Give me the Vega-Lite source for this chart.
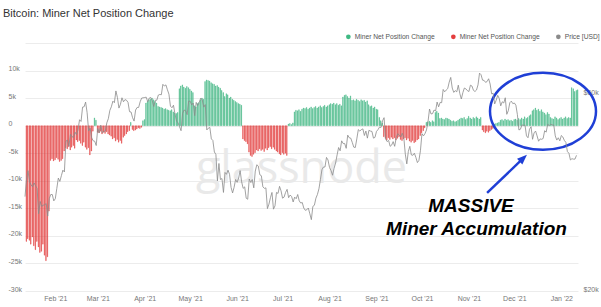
{
"$schema":"https://vega.github.io/schema/vega-lite/v6.json",
"width":553,"height":248,
"autosize":"none",
"padding":{"left":25,"top":43,"right":23,"bottom":16},
"background":"#ffffff",
"config":{"view":{"stroke":null},"font":"Liberation Sans","axis":{"labelFont":"Liberation Sans","labelFontSize":7,"labelColor":"#777777","gridColor":"#ececec","gridWidth":1,"domain":false,"ticks":false}},
"title":{"text":"Bitcoin: Miner Net Position Change","anchor":"start","frame":"group","fontSize":11,"fontWeight":"normal","font":"Liberation Sans","color":"#333333","dx":-22,"offset":14},
"datasets":{"main":[
{"d":"2021-01-12","n":-21000,"p":33900},{"d":"2021-01-13","n":-20500,"p":37300},{"d":"2021-01-14","n":-20800,"p":39200},{"d":"2021-01-15","n":-21500,"p":36800},{"d":"2021-01-16","n":-20200,"p":36200},{"d":"2021-01-17","n":-21800,"p":35800},{"d":"2021-01-18","n":-22500,"p":36600},{"d":"2021-01-19","n":-21000,"p":36000},{"d":"2021-01-20","n":-22000,"p":35500},{"d":"2021-01-21","n":-23000,"p":30800},
{"d":"2021-01-22","n":-22800,"p":33000},{"d":"2021-01-23","n":-21500,"p":32100},{"d":"2021-01-24","n":-23500,"p":32300},{"d":"2021-01-25","n":-24500,"p":32400},{"d":"2021-01-26","n":-23800,"p":32600},{"d":"2021-01-27","n":-15500,"p":30400},{"d":"2021-01-28","n":-6300,"p":33500},{"d":"2021-01-29","n":-6000,"p":34300},{"d":"2021-01-30","n":-6400,"p":34300},{"d":"2021-01-31","n":-6200,"p":33100},
{"d":"2021-02-01","n":-5800,"p":33500},{"d":"2021-02-02","n":-6100,"p":35500},{"d":"2021-02-03","n":-6500,"p":37600},{"d":"2021-02-04","n":-6300,"p":36900},{"d":"2021-02-05","n":-6000,"p":38100},{"d":"2021-02-06","n":-4600,"p":39300},{"d":"2021-02-07","n":-4000,"p":38900},{"d":"2021-02-08","n":-4200,"p":46200},{"d":"2021-02-09","n":-3800,"p":46500},{"d":"2021-02-10","n":-4400,"p":44900},
{"d":"2021-02-11","n":-3900,"p":48000},{"d":"2021-02-12","n":-3600,"p":47400},{"d":"2021-02-13","n":-4100,"p":47200},{"d":"2021-02-14","n":-2600,"p":48600},{"d":"2021-02-15","n":-2900,"p":47900},{"d":"2021-02-16","n":-2700,"p":49200},{"d":"2021-02-17","n":-3200,"p":52100},{"d":"2021-02-18","n":-3600,"p":51600},{"d":"2021-02-19","n":-3000,"p":55900},{"d":"2021-02-20","n":-3900,"p":56000},
{"d":"2021-02-21","n":-4300,"p":57500},{"d":"2021-02-22","n":-4000,"p":54200},{"d":"2021-02-23","n":-5300,"p":48900},{"d":"2021-02-24","n":-4600,"p":49700},{"d":"2021-02-25","n":-1000,"p":47100},{"d":"2021-02-26","n":1400,"p":46300},{"d":"2021-02-27","n":1000,"p":46200},{"d":"2021-02-28","n":-1200,"p":45100},
{"d":"2021-03-01","n":-1300,"p":49600},{"d":"2021-03-02","n":-1000,"p":48400},{"d":"2021-03-03","n":-1500,"p":50500},{"d":"2021-03-04","n":-1200,"p":48400},{"d":"2021-03-05","n":-1400,"p":48800},{"d":"2021-03-06","n":-1100,"p":48900},{"d":"2021-03-07","n":-1500,"p":51200},{"d":"2021-03-08","n":-1700,"p":52400},{"d":"2021-03-09","n":-1900,"p":54900},{"d":"2021-03-10","n":-2400,"p":56000},
{"d":"2021-03-11","n":-2200,"p":57800},{"d":"2021-03-12","n":-2800,"p":57300},{"d":"2021-03-13","n":-2500,"p":61200},{"d":"2021-03-14","n":-3000,"p":59000},{"d":"2021-03-15","n":-2700,"p":55600},{"d":"2021-03-16","n":-3200,"p":56800},{"d":"2021-03-17","n":-2100,"p":58900},{"d":"2021-03-18","n":-1800,"p":57600},{"d":"2021-03-19","n":-1500,"p":58300},{"d":"2021-03-20","n":-1100,"p":58100},
{"d":"2021-03-21","n":-900,"p":57400},{"d":"2021-03-22","n":600,"p":54500},{"d":"2021-03-23","n":-700,"p":54400},{"d":"2021-03-24","n":-900,"p":52700},{"d":"2021-03-25","n":-800,"p":51700},{"d":"2021-03-26","n":-600,"p":55000},{"d":"2021-03-27","n":-400,"p":55800},{"d":"2021-03-28","n":-500,"p":55800},{"d":"2021-03-29","n":-300,"p":57600},{"d":"2021-03-30","n":900,"p":58800},{"d":"2021-03-31","n":1100,"p":58900},
{"d":"2021-04-01","n":4100,"p":59000},{"d":"2021-04-02","n":4400,"p":59100},{"d":"2021-04-03","n":4700,"p":57600},{"d":"2021-04-04","n":4800,"p":58800},{"d":"2021-04-05","n":5000,"p":59000},{"d":"2021-04-06","n":4700,"p":57900},{"d":"2021-04-07","n":4400,"p":56100},{"d":"2021-04-08","n":4100,"p":58100},{"d":"2021-04-09","n":3500,"p":58100},{"d":"2021-04-10","n":3400,"p":59800},
{"d":"2021-04-11","n":3300,"p":60000},{"d":"2021-04-12","n":3200,"p":59900},{"d":"2021-04-13","n":3000,"p":63500},{"d":"2021-04-14","n":3100,"p":62900},{"d":"2021-04-15","n":2900,"p":63300},{"d":"2021-04-16","n":2800,"p":61600},{"d":"2021-04-17","n":2700,"p":60100},{"d":"2021-04-18","n":2900,"p":56200},{"d":"2021-04-19","n":2500,"p":55700},{"d":"2021-04-20","n":2300,"p":56500},
{"d":"2021-04-21","n":2200,"p":53800},{"d":"2021-04-22","n":2400,"p":51700},{"d":"2021-04-23","n":6700,"p":51200},{"d":"2021-04-24","n":7200,"p":50100},{"d":"2021-04-25","n":7400,"p":49000},{"d":"2021-04-26","n":7000,"p":54000},{"d":"2021-04-27","n":6800,"p":55000},{"d":"2021-04-28","n":7100,"p":54800},{"d":"2021-04-29","n":6900,"p":53600},{"d":"2021-04-30","n":6600,"p":57800},
{"d":"2021-05-01","n":6300,"p":57800},{"d":"2021-05-02","n":6000,"p":56600},{"d":"2021-05-03","n":3600,"p":57200},{"d":"2021-05-04","n":3400,"p":53300},{"d":"2021-05-05","n":4000,"p":57400},{"d":"2021-05-06","n":4200,"p":56400},{"d":"2021-05-07","n":4700,"p":57400},{"d":"2021-05-08","n":5000,"p":58800},{"d":"2021-05-09","n":4800,"p":58200},{"d":"2021-05-10","n":8000,"p":55900},
{"d":"2021-05-11","n":8300,"p":56700},{"d":"2021-05-12","n":8200,"p":49200},{"d":"2021-05-13","n":8100,"p":49700},{"d":"2021-05-14","n":7800,"p":49900},{"d":"2021-05-15","n":7600,"p":46800},{"d":"2021-05-16","n":7500,"p":46400},{"d":"2021-05-17","n":7200,"p":43500},{"d":"2021-05-18","n":7300,"p":42900},{"d":"2021-05-19","n":7000,"p":37000},{"d":"2021-05-20","n":6800,"p":40800},
{"d":"2021-05-21","n":6400,"p":37300},{"d":"2021-05-22","n":6000,"p":37500},{"d":"2021-05-23","n":5300,"p":34700},{"d":"2021-05-24","n":5800,"p":38800},{"d":"2021-05-25","n":5600,"p":38400},{"d":"2021-05-26","n":5000,"p":39300},{"d":"2021-05-27","n":5200,"p":38400},{"d":"2021-05-28","n":4800,"p":35700},{"d":"2021-05-29","n":4600,"p":34600},{"d":"2021-05-30","n":4400,"p":35700},{"d":"2021-05-31","n":4200,"p":37300},
{"d":"2021-06-01","n":4000,"p":36700},{"d":"2021-06-02","n":3900,"p":37600},{"d":"2021-06-03","n":3700,"p":39200},{"d":"2021-06-04","n":-2400,"p":36800},{"d":"2021-06-05","n":-2700,"p":35500},{"d":"2021-06-06","n":-2900,"p":35800},{"d":"2021-06-07","n":-3300,"p":33600},{"d":"2021-06-08","n":-4800,"p":33400},{"d":"2021-06-09","n":-5400,"p":37400},{"d":"2021-06-10","n":-5600,"p":36700},
{"d":"2021-06-11","n":-5200,"p":37300},{"d":"2021-06-12","n":-4900,"p":35600},{"d":"2021-06-13","n":-4400,"p":39100},{"d":"2021-06-14","n":-4600,"p":40500},{"d":"2021-06-15","n":-4200,"p":40200},{"d":"2021-06-16","n":-4500,"p":38300},{"d":"2021-06-17","n":-4300,"p":38100},{"d":"2021-06-18","n":-4700,"p":35800},{"d":"2021-06-19","n":-4100,"p":35500},{"d":"2021-06-20","n":-4400,"p":35600},
{"d":"2021-06-21","n":-4000,"p":31700},{"d":"2021-06-22","n":-3800,"p":32500},{"d":"2021-06-23","n":-4200,"p":33700},{"d":"2021-06-24","n":-3900,"p":34700},{"d":"2021-06-25","n":-4300,"p":31600},{"d":"2021-06-26","n":-4600,"p":32200},{"d":"2021-06-27","n":-4800,"p":34700},{"d":"2021-06-28","n":-5100,"p":34500},{"d":"2021-06-29","n":-5300,"p":35900},{"d":"2021-06-30","n":-4900,"p":35000},
{"d":"2021-07-01","n":-5200,"p":33600},{"d":"2021-07-02","n":-5000,"p":33800},{"d":"2021-07-03","n":-5400,"p":34700},{"d":"2021-07-04","n":300,"p":35300},{"d":"2021-07-05","n":400,"p":33700},{"d":"2021-07-06","n":200,"p":34200},{"d":"2021-07-07","n":500,"p":33900},{"d":"2021-07-08","n":2500,"p":32900},{"d":"2021-07-09","n":2800,"p":33800},{"d":"2021-07-10","n":2700,"p":33500},
{"d":"2021-07-11","n":2900,"p":34300},{"d":"2021-07-12","n":2600,"p":33100},{"d":"2021-07-13","n":3000,"p":32700},{"d":"2021-07-14","n":3200,"p":32800},{"d":"2021-07-15","n":3100,"p":31800},{"d":"2021-07-16","n":3300,"p":31400},{"d":"2021-07-17","n":3000,"p":31500},{"d":"2021-07-18","n":3200,"p":31800},{"d":"2021-07-19","n":3400,"p":30800},{"d":"2021-07-20","n":3100,"p":29800},
{"d":"2021-07-21","n":3300,"p":32100},{"d":"2021-07-22","n":3500,"p":32300},{"d":"2021-07-23","n":3200,"p":33600},{"d":"2021-07-24","n":3400,"p":34300},{"d":"2021-07-25","n":3600,"p":35400},{"d":"2021-07-26","n":3300,"p":37300},{"d":"2021-07-27","n":3500,"p":39400},{"d":"2021-07-28","n":3700,"p":40000},{"d":"2021-07-29","n":3400,"p":40000},{"d":"2021-07-30","n":3600,"p":42200},{"d":"2021-07-31","n":3800,"p":41600},
{"d":"2021-08-01","n":4000,"p":39900},{"d":"2021-08-02","n":3900,"p":39200},{"d":"2021-08-03","n":4100,"p":38200},{"d":"2021-08-04","n":3800,"p":39700},{"d":"2021-08-05","n":4000,"p":40900},{"d":"2021-08-06","n":3700,"p":42800},{"d":"2021-08-07","n":3900,"p":44600},{"d":"2021-08-08","n":3600,"p":43800},{"d":"2021-08-09","n":5200,"p":46300},{"d":"2021-08-10","n":5500,"p":45600},
{"d":"2021-08-11","n":5600,"p":45600},{"d":"2021-08-12","n":5300,"p":44400},{"d":"2021-08-13","n":5000,"p":47800},{"d":"2021-08-14","n":5400,"p":47100},{"d":"2021-08-15","n":4600,"p":47000},{"d":"2021-08-16","n":4700,"p":45900},{"d":"2021-08-17","n":4500,"p":44700},{"d":"2021-08-18","n":4800,"p":44600},{"d":"2021-08-19","n":4600,"p":46800},{"d":"2021-08-20","n":4400,"p":49300},
{"d":"2021-08-21","n":4700,"p":48900},{"d":"2021-08-22","n":4500,"p":49300},{"d":"2021-08-23","n":4600,"p":49500},{"d":"2021-08-24","n":4300,"p":47700},{"d":"2021-08-25","n":4500,"p":48900},{"d":"2021-08-26","n":3800,"p":47000},{"d":"2021-08-27","n":3500,"p":49100},{"d":"2021-08-28","n":3600,"p":48900},{"d":"2021-08-29","n":3200,"p":48800},{"d":"2021-08-30","n":3400,"p":47000},{"d":"2021-08-31","n":3000,"p":47200},
{"d":"2021-09-01","n":2900,"p":48800},{"d":"2021-09-02","n":1500,"p":49300},{"d":"2021-09-03","n":900,"p":50000},{"d":"2021-09-04","n":500,"p":49900},{"d":"2021-09-05","n":-2000,"p":51800},{"d":"2021-09-06","n":-2300,"p":52700},{"d":"2021-09-07","n":-2600,"p":46800},{"d":"2021-09-08","n":-2200,"p":46100},{"d":"2021-09-09","n":-2500,"p":46400},{"d":"2021-09-10","n":-2100,"p":44900},
{"d":"2021-09-11","n":-2400,"p":45200},{"d":"2021-09-12","n":-2200,"p":46100},{"d":"2021-09-13","n":-2600,"p":44900},{"d":"2021-09-14","n":-2300,"p":47100},{"d":"2021-09-15","n":-2000,"p":48200},{"d":"2021-09-16","n":-2500,"p":47800},{"d":"2021-09-17","n":-2700,"p":47300},{"d":"2021-09-18","n":-2400,"p":48300},{"d":"2021-09-19","n":-2200,"p":47300},{"d":"2021-09-20","n":-2600,"p":43000},
{"d":"2021-09-21","n":-2300,"p":40700},{"d":"2021-09-22","n":-2800,"p":43600},{"d":"2021-09-23","n":-3000,"p":44900},{"d":"2021-09-24","n":-2700,"p":42800},{"d":"2021-09-25","n":-3100,"p":42700},{"d":"2021-09-26","n":-2900,"p":43200},{"d":"2021-09-27","n":-2600,"p":42200},{"d":"2021-09-28","n":-2400,"p":41000},{"d":"2021-09-29","n":-1800,"p":41500},{"d":"2021-09-30","n":-1300,"p":43800},
{"d":"2021-10-01","n":-900,"p":48200},{"d":"2021-10-02","n":-400,"p":47600},{"d":"2021-10-03","n":600,"p":48200},{"d":"2021-10-04","n":700,"p":49200},{"d":"2021-10-05","n":800,"p":51500},{"d":"2021-10-06","n":600,"p":55300},{"d":"2021-10-07","n":900,"p":53800},{"d":"2021-10-08","n":700,"p":53900},{"d":"2021-10-09","n":2400,"p":55000},{"d":"2021-10-10","n":2600,"p":54700},
{"d":"2021-10-11","n":2300,"p":57500},{"d":"2021-10-12","n":1300,"p":56000},{"d":"2021-10-13","n":1400,"p":57400},{"d":"2021-10-14","n":1200,"p":57300},{"d":"2021-10-15","n":1100,"p":61700},{"d":"2021-10-16","n":1400,"p":60900},{"d":"2021-10-17","n":1300,"p":61500},{"d":"2021-10-18","n":1200,"p":62000},{"d":"2021-10-19","n":1000,"p":64300},{"d":"2021-10-20","n":800,"p":66000},
{"d":"2021-10-21","n":900,"p":62200},{"d":"2021-10-22","n":700,"p":60700},{"d":"2021-10-23","n":800,"p":61300},{"d":"2021-10-24","n":1000,"p":60900},{"d":"2021-10-25","n":1200,"p":63200},{"d":"2021-10-26","n":1400,"p":60300},{"d":"2021-10-27","n":1300,"p":58500},{"d":"2021-10-28","n":1500,"p":60600},{"d":"2021-10-29","n":1100,"p":62200},{"d":"2021-10-30","n":1300,"p":61900},{"d":"2021-10-31","n":1700,"p":61300},
{"d":"2021-11-01","n":1400,"p":61000},{"d":"2021-11-02","n":1200,"p":63200},{"d":"2021-11-03","n":1500,"p":62900},{"d":"2021-11-04","n":1300,"p":61400},{"d":"2021-11-05","n":1600,"p":61000},{"d":"2021-11-06","n":1400,"p":61500},{"d":"2021-11-07","n":1200,"p":63300},{"d":"2021-11-08","n":1500,"p":67600},{"d":"2021-11-09","n":-800,"p":67000},{"d":"2021-11-10","n":-1100,"p":65000},
{"d":"2021-11-11","n":-1300,"p":64900},{"d":"2021-11-12","n":-1000,"p":64200},{"d":"2021-11-13","n":-1200,"p":64500},{"d":"2021-11-14","n":-900,"p":65500},{"d":"2021-11-15","n":-700,"p":63600},{"d":"2021-11-16","n":-500,"p":60200},{"d":"2021-11-17","n":300,"p":60400},{"d":"2021-11-18","n":400,"p":56900},{"d":"2021-11-19","n":500,"p":58100},{"d":"2021-11-20","n":600,"p":59700},
{"d":"2021-11-21","n":1000,"p":58700},{"d":"2021-11-22","n":1100,"p":56300},{"d":"2021-11-23","n":900,"p":57600},{"d":"2021-11-24","n":1200,"p":57200},{"d":"2021-11-25","n":1000,"p":58900},{"d":"2021-11-26","n":1100,"p":53700},{"d":"2021-11-27","n":900,"p":54800},{"d":"2021-11-28","n":1000,"p":57300},{"d":"2021-11-29","n":800,"p":57800},{"d":"2021-11-30","n":1100,"p":57000},
{"d":"2021-12-01","n":1200,"p":57200},{"d":"2021-12-02","n":1000,"p":56500},{"d":"2021-12-03","n":1300,"p":53600},{"d":"2021-12-04","n":1100,"p":49200},{"d":"2021-12-05","n":1400,"p":49400},{"d":"2021-12-06","n":1200,"p":50600},{"d":"2021-12-07","n":1600,"p":50500},{"d":"2021-12-08","n":1300,"p":50600},{"d":"2021-12-09","n":1500,"p":47600},{"d":"2021-12-10","n":1800,"p":47100},
{"d":"2021-12-11","n":2000,"p":49400},{"d":"2021-12-12","n":2700,"p":50100},{"d":"2021-12-13","n":2900,"p":46700},{"d":"2021-12-14","n":3200,"p":48400},{"d":"2021-12-15","n":2800,"p":48900},{"d":"2021-12-16","n":3000,"p":47600},{"d":"2021-12-17","n":2600,"p":46200},{"d":"2021-12-18","n":2900,"p":46800},{"d":"2021-12-19","n":2500,"p":46700},{"d":"2021-12-20","n":2300,"p":46900},
{"d":"2021-12-21","n":2000,"p":49000},{"d":"2021-12-22","n":2400,"p":48600},{"d":"2021-12-23","n":2100,"p":50800},{"d":"2021-12-24","n":1500,"p":50400},{"d":"2021-12-25","n":1300,"p":50800},{"d":"2021-12-26","n":1200,"p":50600},{"d":"2021-12-27","n":1600,"p":50600},{"d":"2021-12-28","n":1400,"p":47600},{"d":"2021-12-29","n":1100,"p":46500},{"d":"2021-12-30","n":1300,"p":47100},{"d":"2021-12-31","n":1500,"p":46300},
{"d":"2022-01-01","n":1200,"p":47700},{"d":"2022-01-02","n":1400,"p":47300},{"d":"2022-01-03","n":1600,"p":46400},{"d":"2022-01-04","n":1300,"p":45900},{"d":"2022-01-05","n":1500,"p":43600},{"d":"2022-01-06","n":1400,"p":43200},{"d":"2022-01-07","n":6900,"p":41600},{"d":"2022-01-08","n":6700,"p":41900},{"d":"2022-01-09","n":6200,"p":41800},{"d":"2022-01-10","n":6400,"p":41800},{"d":"2022-01-11","n":6500,"p":42700}
],
"ann":[
{"k":"wm","d":"2021-07-13T12:00:00","n":-10400},
{"k":"ell","d":"2021-12-19T21:36:00","n":2600},
{"k":"arrow","d":"2021-11-13T00:00:00","n":-12200,"d2":"2021-12-06T09:36:00","n2":-6040},
{"k":"head","d":"2021-12-06T09:36:00","n":-6040},
{"k":"t1","d":"2021-11-02T09:36:00","n":-15650},
{"k":"t2","d":"2021-11-06T00:00:00","n":-19820}
]},
"layer":[
{"layer":[
{"data":{"name":"main"},
 "mark":{"type":"bar","strokeWidth":0.35},
 "encoding":{
  "x":{"field":"d","type":"temporal","timeUnit":"yearmonthdate","title":null,
   "scale":{"domain":[{"year":2021,"month":1,"date":12},{"year":2022,"month":1,"date":12}],"nice":false},
   "axis":{"format":"%b '%y","formatType":"time","tickCount":{"interval":"month","step":1},"grid":false,"labelPadding":3,"labelFontSize":7,"labelColor":"#777777","labelFlush":false}},
  "y":{"field":"n","type":"quantitative","title":null,
   "scale":{"domain":[-30000,15000],"nice":false},
   "axis":{"values":[-30000,-25000,-20000,-15000,-10000,-5000,0,5000,10000,15000],"labelOverlap":false,"labelExpr":"datum.value == 15000 ? '' : (datum.value == 0 ? '0' : (datum.value/1000) + 'k')","labelAlign":"left","labelPadding":17,"labelOffset":-2,"grid":true,"labelFontSize":7,"labelColor":"#777777"}},
  "color":{"condition":{"test":"datum.n >= 0","value":"#3fb983"},"value":"#e43d3d"},
  "stroke":{"condition":{"test":"datum.n >= 0","value":"#2fae76"},"value":"#e02a2a"}}},
{"data":{"name":"ann"},"transform":[{"filter":"datum.k == 'wm'"}],
 "mark":{"type":"text","text":"glassnode","font":"Open Sans","fontSize":45,"color":"#e9e9e9","align":"center","baseline":"alphabetic"},
 "encoding":{
  "x":{"field":"d","type":"temporal","title":null,"axis":{"format":"%b '%y","formatType":"time","tickCount":{"interval":"month","step":1},"grid":false,"labelPadding":3,"labelFontSize":7,"labelColor":"#777777","labelFlush":false}},
  "y":{"field":"n","type":"quantitative","title":null,"axis":{"values":[-30000,-25000,-20000,-15000,-10000,-5000,0,5000,10000,15000],"labelOverlap":false,"labelExpr":"datum.value == 15000 ? '' : (datum.value == 0 ? '0' : (datum.value/1000) + 'k')","labelAlign":"left","labelPadding":17,"labelOffset":-2,"grid":true,"labelFontSize":7,"labelColor":"#777777"}}}},
{"data":{"name":"ann"},"transform":[{"filter":"datum.k == 'ell'"}],
 "mark":{"type":"point","shape":"M-1,0A1,0.726,0,1,0,1,0A1,0.726,0,1,0,-1,0Z","size":11236,"filled":false,"stroke":"#1f3fd6","strokeWidth":2.5,"opacity":1},
 "encoding":{
  "x":{"field":"d","type":"temporal","title":null,"axis":{"format":"%b '%y","formatType":"time","tickCount":{"interval":"month","step":1},"grid":false,"labelPadding":3,"labelFontSize":7,"labelColor":"#777777","labelFlush":false}},
  "y":{"field":"n","type":"quantitative","title":null,"axis":{"values":[-30000,-25000,-20000,-15000,-10000,-5000,0,5000,10000,15000],"labelOverlap":false,"labelExpr":"datum.value == 15000 ? '' : (datum.value == 0 ? '0' : (datum.value/1000) + 'k')","labelAlign":"left","labelPadding":17,"labelOffset":-2,"grid":true,"labelFontSize":7,"labelColor":"#777777"}}}},
{"data":{"name":"ann"},"transform":[{"filter":"datum.k == 'arrow'"}],
 "mark":{"type":"rule","color":"#1f3fd6","strokeWidth":2.5},
 "encoding":{
  "x":{"field":"d","type":"temporal","title":null,"axis":{"format":"%b '%y","formatType":"time","tickCount":{"interval":"month","step":1},"grid":false,"labelPadding":3,"labelFontSize":7,"labelColor":"#777777","labelFlush":false}},
  "y":{"field":"n","type":"quantitative","title":null,"axis":{"values":[-30000,-25000,-20000,-15000,-10000,-5000,0,5000,10000,15000],"labelOverlap":false,"labelExpr":"datum.value == 15000 ? '' : (datum.value == 0 ? '0' : (datum.value/1000) + 'k')","labelAlign":"left","labelPadding":17,"labelOffset":-2,"grid":true,"labelFontSize":7,"labelColor":"#777777"}},
  "x2":{"field":"d2"},"y2":{"field":"n2"}}},
{"data":{"name":"ann"},"transform":[{"filter":"datum.k == 'head'"}],
 "mark":{"type":"point","shape":"M0,-1L0.65,0.65L-0.65,0.65Z","size":144,"filled":true,"color":"#1f3fd6","angle":47,"opacity":1},
 "encoding":{
  "x":{"field":"d","type":"temporal","title":null,"axis":{"format":"%b '%y","formatType":"time","tickCount":{"interval":"month","step":1},"grid":false,"labelPadding":3,"labelFontSize":7,"labelColor":"#777777","labelFlush":false}},
  "y":{"field":"n","type":"quantitative","title":null,"axis":{"values":[-30000,-25000,-20000,-15000,-10000,-5000,0,5000,10000,15000],"labelOverlap":false,"labelExpr":"datum.value == 15000 ? '' : (datum.value == 0 ? '0' : (datum.value/1000) + 'k')","labelAlign":"left","labelPadding":17,"labelOffset":-2,"grid":true,"labelFontSize":7,"labelColor":"#777777"}}}},
{"data":{"name":"ann"},"transform":[{"filter":"datum.k == 't1'"}],
 "mark":{"type":"text","text":"MASSIVE","font":"Liberation Sans","fontSize":19,"fontWeight":"bold","fontStyle":"italic","color":"#000000","align":"center","baseline":"alphabetic"},
 "encoding":{
  "x":{"field":"d","type":"temporal","title":null,"axis":{"format":"%b '%y","formatType":"time","tickCount":{"interval":"month","step":1},"grid":false,"labelPadding":3,"labelFontSize":7,"labelColor":"#777777","labelFlush":false}},
  "y":{"field":"n","type":"quantitative","title":null,"axis":{"values":[-30000,-25000,-20000,-15000,-10000,-5000,0,5000,10000,15000],"labelOverlap":false,"labelExpr":"datum.value == 15000 ? '' : (datum.value == 0 ? '0' : (datum.value/1000) + 'k')","labelAlign":"left","labelPadding":17,"labelOffset":-2,"grid":true,"labelFontSize":7,"labelColor":"#777777"}}}},
{"data":{"name":"ann"},"transform":[{"filter":"datum.k == 't2'"}],
 "mark":{"type":"text","text":"Miner Accumulation","font":"Liberation Sans","fontSize":19,"fontWeight":"bold","fontStyle":"italic","color":"#000000","align":"center","baseline":"alphabetic"},
 "encoding":{
  "x":{"field":"d","type":"temporal","title":null,"axis":{"format":"%b '%y","formatType":"time","tickCount":{"interval":"month","step":1},"grid":false,"labelPadding":3,"labelFontSize":7,"labelColor":"#777777","labelFlush":false}},
  "y":{"field":"n","type":"quantitative","title":null,"axis":{"values":[-30000,-25000,-20000,-15000,-10000,-5000,0,5000,10000,15000],"labelOverlap":false,"labelExpr":"datum.value == 15000 ? '' : (datum.value == 0 ? '0' : (datum.value/1000) + 'k')","labelAlign":"left","labelPadding":17,"labelOffset":-2,"grid":true,"labelFontSize":7,"labelColor":"#777777"}}}}
]},
{"data":{"name":"main"},
 "mark":{"type":"line","strokeWidth":0.8},
 "encoding":{
  "x":{"field":"d","type":"temporal","title":null,"axis":{"format":"%b '%y","formatType":"time","tickCount":{"interval":"month","step":1},"grid":false,"labelPadding":3,"labelFontSize":7,"labelColor":"#777777","labelFlush":false}},
  "y":{"field":"p","type":"quantitative","title":null,
   "scale":{"type":"log","domain":[20000,80000],"nice":false},
   "axis":{"orient":"right","values":[20000,60000],"labelExpr":"'$' + (datum.value/1000) + 'k'","grid":false,"labelPadding":5,"labelOffset":-2,"labelFontSize":7,"labelColor":"#777777"}},
  "color":{"datum":"Price [USD]","type":"nominal",
   "scale":{"domain":["Miner Net Position Change","Miner Net Position Change ","Price [USD]"],"range":["#3fb983","#e43d3d","#8a8a8a"]},
   "legend":{"orient":"none","legendX":320,"legendY":-10,"direction":"horizontal","title":null,"symbolType":"circle","symbolSize":22,"symbolStrokeWidth":0,"labelFontSize":6.7,"labelColor":"#555555","labelFont":"Liberation Sans","columnPadding":15,"labelOffset":3,
    "encode":{"symbols":{"update":{"fill":{"scale":"color","field":"value"},"opacity":{"value":1}}}}}}}}
],
"resolve":{"scale":{"y":"independent"}}
}
